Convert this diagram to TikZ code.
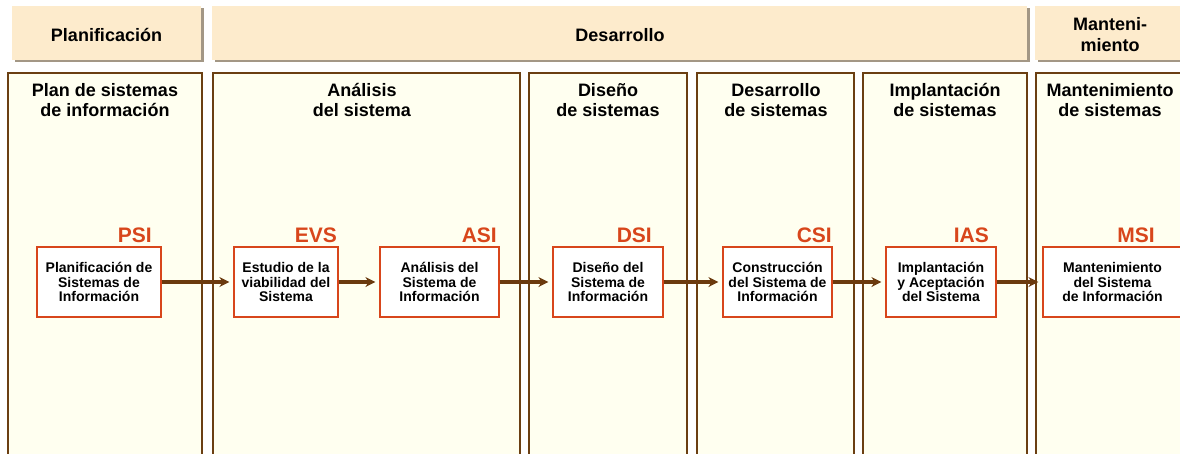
\documentclass[tikz,border=0pt]{standalone}
\usepackage{fontspec}
\setmainfont{Liberation Sans}
\usepackage{xcolor}
\usetikzlibrary{arrows.meta}
\definecolor{headfill}{HTML}{FDEBCC}
\definecolor{headshadow}{HTML}{A39785}
\definecolor{colfill}{HTML}{FFFFF0}
\definecolor{coledge}{HTML}{6B3F12}
\definecolor{codered}{HTML}{D8461B}
\definecolor{arrowbrown}{HTML}{6B3A0E}
\newcommand{\headtop}{6}
\newcommand{\headbot}{60}
\newcommand{\coltop}{73}
\newcommand{\colbot}{470}
\newcommand{\boxy}{282}
\newcommand{\labely}{242}
\newcommand{\titley}{100}

\begin{document}
\begin{tikzpicture}[x=1pt, y=-1pt, >={Stealth[length=10pt, width=10pt]},
    headtitle/.style={inner sep=0pt, align=center, font=\fontsize{18}{21}\selectfont\bfseries},
    coltitle/.style={inner sep=0pt, align=center, font=\fontsize{18}{19.5}\selectfont\bfseries},
    stagebox/.style={draw=codered, line width=1.2pt, fill=white, minimum height=70pt, inner sep=0pt, align=center, font=\fontsize{14}{14.5}\selectfont\bfseries},
    stagecode/.style={inner sep=0pt, anchor=base east, text=codered, font=\fontsize{21}{21}\selectfont\bfseries},
    flow/.style={->, draw=arrowbrown, line width=3.2pt, shorten >=4pt}]
        \useasboundingbox[fill=white] (0,0) rectangle (1180,453);

        % color
        \fill[headshadow] (15,\headtop+2) rectangle (204,\headbot+2);
        \fill[headfill] (12,\headtop) rectangle (201,\headbot);
        \fill[headshadow] (215,\headtop+2) rectangle (1030,\headbot+2);
        \fill[headfill] (212,\headtop) rectangle (1027,\headbot);
        \fill[headshadow] (1038,\headtop+2) rectangle (1190,\headbot+2);
        \fill[headfill] (1035,\headtop) rectangle (1190,\headbot);

        % phase labels
        \node[headtitle] (hplan) at (106.5,35) {Planificación};
        \node[headtitle] (hdes) at (620,35) {Desarrollo};
        \node[headtitle] (hmant) at (1110,35) {Manteni-\\miento};

        % columns
        \foreach \l/\r in {8/202, 213/520, 529/687, 697/854, 863/1027, 1036/1190} {
            \fill[colfill] (\l,\coltop) rectangle (\r,\colbot);
            \draw[coledge, line width=2pt] (\l,\colbot) -- (\l,\coltop) -- (\r,\coltop) -- (\r,\colbot);
        }

        % column titles
        \node[coltitle] (tpsi) at (105,\titley) {Plan de sistemas\\de información};
        \node[coltitle] (tasi) at (362,\titley) {Análisis\\del sistema};
        \node[coltitle] (tdsi) at (608,\titley) {Diseño\\de sistemas};
        \node[coltitle] (tcsi) at (776,\titley) {Desarrollo\\de sistemas};
        \node[coltitle] (tias) at (945,\titley) {Implantación\\de sistemas};
        \node[coltitle] (tmsi) at (1110,\titley) {Mantenimiento\\de sistemas};

        % process boxes
        \node[stagebox, minimum width=124pt] (psi) at (99,\boxy) {Planificación de\\Sistemas de\\Información};
        \node[stagebox, minimum width=104pt] (evs) at (286,\boxy) {Estudio de la\\viabilidad del\\Sistema};
        \node[stagebox, minimum width=119pt] (asi) at (439.5,\boxy) {Análisis del\\Sistema de\\Información};
        \node[stagebox, minimum width=110pt] (dsi) at (608,\boxy) {Diseño del\\Sistema de\\Información};
        \node[stagebox, minimum width=109pt] (csi) at (777.5,\boxy) {Construcción\\del Sistema de\\Información};
        \node[stagebox, minimum width=110pt] (ias) at (941,\boxy) {Implantación\\y Aceptación\\del Sistema};
        \node[stagebox, minimum width=139pt] (msi) at (1112.5,\boxy) {Mantenimiento\\del Sistema\\de Información};

        % labels
        \node[stagecode] (lpsi) at (152,\labely) {PSI};
        \node[stagecode] (levs) at (337,\labely) {EVS};
        \node[stagecode] (lasi) at (497,\labely) {ASI};
        \node[stagecode] (ldsi) at (652,\labely) {DSI};
        \node[stagecode] (lcsi) at (832,\labely) {CSI};
        \node[stagecode] (lias) at (989,\labely) {IAS};
        \node[stagecode] (lmsi) at (1155,\labely) {MSI};

        % arrows
        \draw[flow] (psi.east) -- (evs.west);
        \draw[flow] (evs.east) -- (asi.west);
        \draw[flow] (asi.east) -- (dsi.west);
        \draw[flow] (dsi.east) -- (csi.west);
        \draw[flow] (csi.east) -- (ias.west);
        \draw[flow] (ias.east) -- (msi.west);
    \end{tikzpicture}
\end{document}
